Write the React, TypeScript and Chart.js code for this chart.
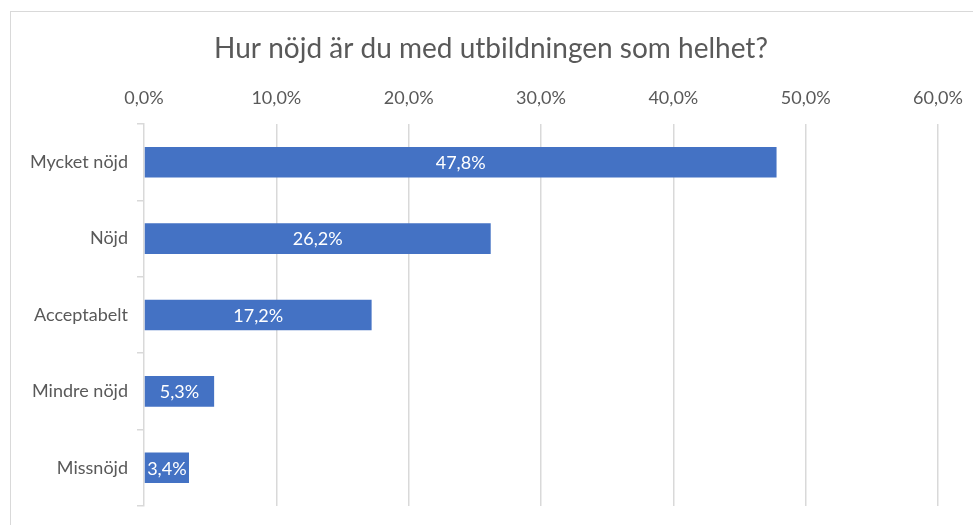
import React, { useEffect, useRef } from "react";
import { Chart, registerables } from "chart.js";

Chart.register(...registerables);

const TITLE = "Hur nöjd är du med utbildningen som helhet?";
const categories = ["Mycket nöjd", "Nöjd", "Acceptabelt", "Mindre nöjd", "Missnöjd"];
const values = [47.8, 26.2, 17.2, 5.3, 3.4];
const xTicks = [0, 10, 20, 30, 40, 50, 60];

const FONT = "Lato, 'Open Sans', sans-serif";
const fmt = (v: number) => v.toFixed(1).replace(".", ",") + "%";

const framePlugin = {
  id: "frame",
  beforeDraw(chart: any) {
    const ctx = chart.ctx;
    ctx.save();
    ctx.fillStyle = "#ffffff";
    ctx.fillRect(0, 0, chart.width, chart.height);
    ctx.strokeStyle = "#d9d9d9";
    ctx.lineWidth = 1;
    ctx.strokeRect(10.5, 11.5, chart.width + 20, chart.height + 20);
    ctx.restore();
  },
  afterDraw(chart: any) {
    const ctx = chart.ctx;
    ctx.save();
    ctx.fillStyle = "#595959";
    ctx.font = `28px ${FONT}`;
    ctx.textAlign = "center";
    ctx.textBaseline = "middle";
    ctx.fillText(TITLE, 491, 49);
    // data labels
    const meta = chart.getDatasetMeta(0);
    ctx.fillStyle = "#ffffff";
    ctx.font = `18px ${FONT}`;
    meta.data.forEach((bar: any, i: number) => {
      const cx = (bar.x + bar.base) / 2;
      ctx.fillText(fmt(values[i]), cx, bar.y + 1);
    });
    ctx.restore();
  },
};

export default function App() {
  const ref = useRef<HTMLCanvasElement>(null);
  useEffect(() => {
    document.body.style.margin = "0";
    const chart = new Chart(ref.current!, {
      type: "bar",
      data: {
        labels: categories,
        datasets: [
          {
            data: values,
            backgroundColor: "#4472C4",
            borderWidth: 0,
            barPercentage: 0.4,
            categoryPercentage: 1,
          },
        ],
      },
      plugins: [framePlugin],
      options: {
        indexAxis: "y",
        animation: false,
        responsive: false,
        maintainAspectRatio: false,
        layout: { padding: { left: 0, top: 0, right: 35, bottom: 19 } },
        plugins: {
          legend: { display: false },
          title: { display: false },
          tooltip: { enabled: false },
        },
        scales: {
          x: {
            position: "top",
            min: 0,
            max: 60,
            afterBuildTicks(scale: any) {
              scale.ticks = xTicks.map((v) => ({ value: v }));
            },
            afterFit(scale: any) {
              scale.height = 124;
              scale.paddingLeft = 0;
              scale.paddingRight = 0;
            },
            ticks: {
              callback: (v: any) => fmt(Number(v)),
              color: "#595959",
              font: { family: FONT, size: 18 },
              padding: 15,
              maxRotation: 0,
            },
            grid: {
              color: (c: any) => (c.index === 0 ? "rgba(0,0,0,0)" : "#d9d9d9"),
              lineWidth: 1.5,
              drawTicks: false,
            },
            border: { display: false },
          },
          y: {
            afterFit(scale: any) {
              scale.width = 144;
              scale.paddingTop = 0;
              scale.paddingBottom = 0;
            },
            ticks: {
              color: "#595959",
              font: { family: FONT, size: 18 },
              padding: 9,
            },
            grid: {
              offset: true,
              drawOnChartArea: false,
              drawTicks: true,
              tickLength: 7,
              color: "#d9d9d9",
              lineWidth: 1.5,
            },
            border: { display: true, color: "#d9d9d9", width: 1.5 },
          },
        },
      },
    } as any);
    return () => chart.destroy();
  }, []);
  return (
    <div style={{ width: 973, height: 525 }}>
      <canvas ref={ref} width={973} height={525} style={{ display: "block" }} />
    </div>
  );
}
